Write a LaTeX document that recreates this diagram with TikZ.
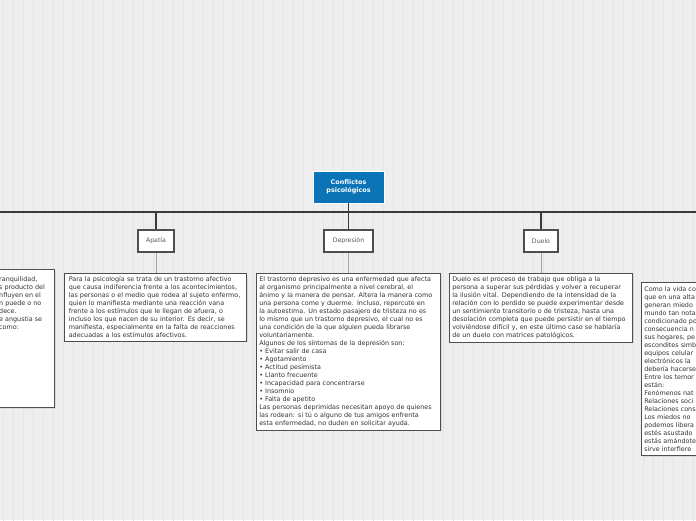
\documentclass[tikz,border=0pt]{standalone}
\usepackage{fontspec}
\setmainfont{DejaVu Sans}
\usetikzlibrary{positioning,shadows}
\definecolor{bgcol}{HTML}{EEEEEE}
\definecolor{gridcol}{HTML}{E4E4E4}
\definecolor{rootcol}{HTML}{0B74B6}
\definecolor{treecol}{HTML}{3A3A3A}
\definecolor{linkcol}{HTML}{A8A8A8}
\definecolor{txtcol}{HTML}{333333}
\newcommand{\notefont}{\fontsize{6.4}{8}\selectfont\baselineskip=8pt\relax}
\tikzset{
  root/.style={draw=white,line width=0.8pt,fill=rootcol,text=white,align=center,minimum width=71pt,minimum height=32pt,inner sep=2pt,font=\fontsize{6.4}{8}\selectfont\bfseries,drop shadow={shadow xshift=0.8pt,shadow yshift=-0.8pt,fill=black!25}},
  topic/.style={draw=treecol!90,line width=1.1pt,fill=white,text=black!65,minimum height=22pt,inner sep=2pt,font=\fontsize{6.2}{8}\selectfont,drop shadow={shadow xshift=1pt,shadow yshift=-1pt,fill=black!22}},
  note/.style={draw=treecol!90,line width=0.6pt,fill=white,text=txtcol,align=left,anchor=north west,inner xsep=3pt,inner ysep=3.2pt,font=\notefont,drop shadow={shadow xshift=1.2pt,shadow yshift=-1.2pt,fill=black!22}},
  frag/.style={text=txtcol,align=left,inner sep=0pt,font=\notefont},
  tree/.style={draw=treecol,line width=1.1pt},
  link/.style={draw=linkcol,line width=0.9pt}
}

\begin{document}
\begin{tikzpicture}[x=1pt,y=-1pt]
\useasboundingbox (0,0) rectangle (696,520);
\clip (0,0) rectangle (696,520);
\fill[bgcol] (0,0) rectangle (696,520);
\draw[gridcol,line width=0.6pt,step=10,shift={(3,1)}] (-10,-10) grid (700,530);
\node[root] (conf) at (348.5,187) {Conflictos\\psicológicos};
\coordinate (hub) at (348.5,212);
\coordinate (lend) at (-5,212);
\coordinate (rend) at (705,212);
\node[topic,minimum width=36pt] (apatia) at (156,241) {Apatía};
\node[topic,minimum width=49pt] (depre) at (348.5,241) {Depresión};
\node[topic,minimum width=34pt] (duelo) at (541,241) {Duelo};
\node[note,text width=176pt] (apat) at (64,273) {\hspace{1.5pt}Para la psicología se trata de un trastorno afectivo\\\hspace*{1.5pt}que causa indiferencia frente a los acontecimientos,\\\hspace*{1.5pt}las personas o el medio que rodea al sujeto enfermo,\\\hspace*{1.5pt}quien lo manifiesta mediante una reacción vana\\\hspace*{1.5pt}frente a los estímulos que le llegan de afuera, o\\\hspace*{1.5pt}incluso los que nacen de su interior. Es decir, se\\\hspace*{1.5pt}manifiesta, especialmente en la falta de reacciones\\\hspace*{1.5pt}adecuadas a los estímulos afectivos.};
\node[note,text width=178pt] (dep) at (256,273) {El trastorno depresivo es una enfermedad que afecta\\al organismo principalmente a nivel cerebral, el\\ánimo y la manera de pensar. Altera la manera como\\una persona come y duerme. Incluso, repercute en\\la autoestima. Un estado pasajero de tristeza no es\\lo mismo que un trastorno depresivo, el cual no es\\una condición de la que alguien pueda librarse\\voluntariamente.\\Algunos de los síntomas de la depresión son:\\• Evitar salir de casa\\• Agotamiento\\• Actitud pesimista\\• Llanto frecuente\\• Incapacidad para concentrarse\\• Insomnio\\• Falta de apetito\\Las personas deprimidas necesitan apoyo de quienes\\las rodean: si tú o alguno de tus amigos enfrenta\\esta enfermedad, no duden en solicitar ayuda.};
\node[note,text width=177pt] (duel) at (449,273) {Duelo es el proceso de trabajo que obliga a la\\persona a superar sus pérdidas y volver a recuperar\\la ilusión vital. Dependiendo de la intensidad de la\\relación con lo perdido se puede experimentar desde\\un sentimiento transitorio o de tristeza, hasta una\\desolación completa que puede persistir en el tiempo\\volviéndose difícil y, en este último caso se hablaría\\de un duelo con matrices patológicos.};
\node[note,minimum width=150pt,minimum height=138pt,anchor=north east] (lbox) at (55,269) {};
\node[frag,anchor=north west] (ltxt) at (-1,276) {ranquilidad,\\s producto del\\nfluyen en el\\n puede o no\\dece.\\e angustia se\\como:};
\node[note,text width=120pt,minimum height=173pt] (rbox) at (641,282) {Como la vida co\\que en una alta\\generan miedo\\mundo tan nota\\condicionado po\\consecuencia n\\sus hogares, pe\\escondites simb\\equipos celular\\electrónicos la\\debería hacerse\\Entre los temor\\están:\\Fenómenos nat\\Relaciones soci\\Relaciones cons\\Los miedos no\\podemos libera\\estés asustado\\estás amándote\\sirve interfiere};
\draw[tree] (conf) -- (hub);
\draw[tree] (lend) -- (rend);
\draw[tree] (hub -| apatia) -- (apatia);
\draw[tree] (hub) -- (depre);
\draw[tree] (hub -| duelo) -- (duelo);
\draw[link] (apatia) -- (apatia |- apat.north);
\draw[link] (depre) -- (depre |- dep.north);
\draw[link] (duelo) -- (duelo |- duel.north);
\end{tikzpicture}
\end{document}
